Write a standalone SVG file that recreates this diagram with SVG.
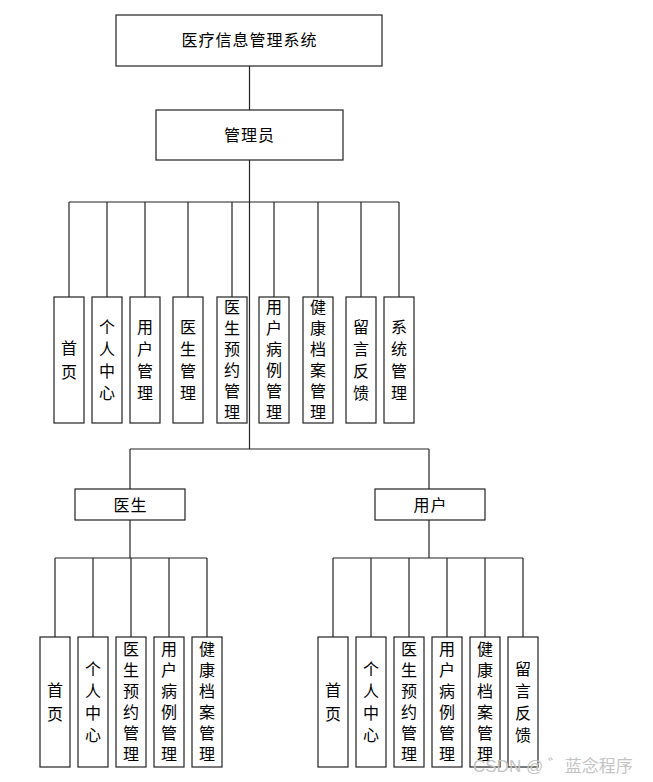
<svg xmlns="http://www.w3.org/2000/svg" width="653" height="782" viewBox="0 0 653 782">
<style>
rect{fill:#fff;stroke:#222;stroke-width:1.2}
.c line{stroke:#222;stroke-width:1.2}
text{font-family:"Noto Sans CJK SC","Noto Sans CJK JP",sans-serif;font-size:16px;fill:#000;text-anchor:middle}
.h{letter-spacing:1px}
.wm{font-family:"Liberation Sans","Noto Sans CJK SC",sans-serif;font-size:17px;fill:#c4c4c4;text-anchor:start}
</style>
<rect x="0" y="0" width="653" height="782" style="fill:#fff;stroke:none"/>
<g class="c" id="connectors">
<line x1="249.5" y1="66" x2="249.5" y2="110"/>
<line x1="249.5" y1="160" x2="249.5" y2="449"/>
<line x1="69" y1="202" x2="399" y2="202"/>
<line x1="69" y1="202" x2="69" y2="297"/>
<line x1="107" y1="202" x2="107" y2="297"/>
<line x1="145" y1="202" x2="145" y2="297"/>
<line x1="188" y1="202" x2="188" y2="297"/>
<line x1="232" y1="202" x2="232" y2="297"/>
<line x1="274" y1="202" x2="274" y2="297"/>
<line x1="318" y1="202" x2="318" y2="297"/>
<line x1="361" y1="202" x2="361" y2="297"/>
<line x1="399" y1="202" x2="399" y2="297"/>
<line x1="130" y1="449" x2="429" y2="449"/>
<line x1="130" y1="449" x2="130" y2="489"/>
<line x1="429" y1="449" x2="429" y2="489"/>
<line x1="130" y1="520" x2="130" y2="558"/>
<line x1="55" y1="558" x2="207" y2="558"/>
<line x1="55" y1="558" x2="55" y2="637"/>
<line x1="93" y1="558" x2="93" y2="637"/>
<line x1="131" y1="558" x2="131" y2="637"/>
<line x1="169" y1="558" x2="169" y2="637"/>
<line x1="207" y1="558" x2="207" y2="637"/>
<line x1="429" y1="520" x2="429" y2="558"/>
<line x1="333" y1="558" x2="523" y2="558"/>
<line x1="333" y1="558" x2="333" y2="637"/>
<line x1="371" y1="558" x2="371" y2="637"/>
<line x1="409" y1="558" x2="409" y2="637"/>
<line x1="447" y1="558" x2="447" y2="637"/>
<line x1="485" y1="558" x2="485" y2="637"/>
<line x1="523" y1="558" x2="523" y2="637"/>
</g>
<g id="root"><rect x="116" y="15" width="266" height="51"/><text class="h" x="249.5" y="46">医疗信息管理系统</text></g>
<g id="admin"><rect x="156" y="110" width="187" height="50"/><text class="h" x="249.5" y="141">管理员</text></g>

<g id="a1"><rect x="54" y="297" width="30" height="126"/><text><tspan x="69" y="354">首</tspan><tspan x="69" y="378">页</tspan></text></g>
<g id="a2"><rect x="92" y="297" width="30" height="126"/><text><tspan x="107" y="333">个</tspan><tspan x="107" y="355">人</tspan><tspan x="107" y="377">中</tspan><tspan x="107" y="399">心</tspan></text></g>
<g id="a3"><rect x="130" y="297" width="30" height="126"/><text><tspan x="145" y="333">用</tspan><tspan x="145" y="355">户</tspan><tspan x="145" y="377">管</tspan><tspan x="145" y="399">理</tspan></text></g>
<g id="a4"><rect x="173" y="297" width="30" height="126"/><text><tspan x="188" y="333">医</tspan><tspan x="188" y="355">生</tspan><tspan x="188" y="377">管</tspan><tspan x="188" y="399">理</tspan></text></g>
<g id="a5"><rect x="217" y="297" width="30" height="126"/><text><tspan x="232" y="313">医</tspan><tspan x="232" y="334">生</tspan><tspan x="232" y="355">预</tspan><tspan x="232" y="376">约</tspan><tspan x="232" y="397">管</tspan><tspan x="232" y="418">理</tspan></text></g>
<g id="a6"><rect x="259" y="297" width="30" height="126"/><text><tspan x="274" y="313">用</tspan><tspan x="274" y="334">户</tspan><tspan x="274" y="355">病</tspan><tspan x="274" y="376">例</tspan><tspan x="274" y="397">管</tspan><tspan x="274" y="418">理</tspan></text></g>
<g id="a7"><rect x="303" y="297" width="30" height="126"/><text><tspan x="318" y="313">健</tspan><tspan x="318" y="334">康</tspan><tspan x="318" y="355">档</tspan><tspan x="318" y="376">案</tspan><tspan x="318" y="397">管</tspan><tspan x="318" y="418">理</tspan></text></g>
<g id="a8"><rect x="346" y="297" width="30" height="126"/><text><tspan x="361" y="333">留</tspan><tspan x="361" y="355">言</tspan><tspan x="361" y="377">反</tspan><tspan x="361" y="399">馈</tspan></text></g>
<g id="a9"><rect x="384" y="297" width="30" height="126"/><text><tspan x="399" y="333">系</tspan><tspan x="399" y="355">统</tspan><tspan x="399" y="377">管</tspan><tspan x="399" y="399">理</tspan></text></g>

<g id="doctor"><rect x="75" y="489" width="110" height="31"/><text class="h" x="130.5" y="511">医生</text></g>
<g id="user"><rect x="375" y="489" width="110" height="31"/><text class="h" x="430.5" y="511">用户</text></g>

<g id="d1"><rect x="40" y="637" width="30" height="130"/><text><tspan x="55" y="696">首</tspan><tspan x="55" y="720">页</tspan></text></g>
<g id="d2"><rect x="78" y="637" width="30" height="130"/><text><tspan x="93" y="675">个</tspan><tspan x="93" y="697">人</tspan><tspan x="93" y="719">中</tspan><tspan x="93" y="741">心</tspan></text></g>
<g id="d3"><rect x="116" y="637" width="30" height="130"/><text><tspan x="131" y="655">医</tspan><tspan x="131" y="676">生</tspan><tspan x="131" y="697">预</tspan><tspan x="131" y="718">约</tspan><tspan x="131" y="739">管</tspan><tspan x="131" y="760">理</tspan></text></g>
<g id="d4"><rect x="154" y="637" width="30" height="130"/><text><tspan x="169" y="655">用</tspan><tspan x="169" y="676">户</tspan><tspan x="169" y="697">病</tspan><tspan x="169" y="718">例</tspan><tspan x="169" y="739">管</tspan><tspan x="169" y="760">理</tspan></text></g>
<g id="d5"><rect x="192" y="637" width="30" height="130"/><text><tspan x="207" y="655">健</tspan><tspan x="207" y="676">康</tspan><tspan x="207" y="697">档</tspan><tspan x="207" y="718">案</tspan><tspan x="207" y="739">管</tspan><tspan x="207" y="760">理</tspan></text></g>

<g id="u1"><rect x="318" y="637" width="30" height="130"/><text><tspan x="333" y="696">首</tspan><tspan x="333" y="720">页</tspan></text></g>
<g id="u2"><rect x="356" y="637" width="30" height="130"/><text><tspan x="371" y="675">个</tspan><tspan x="371" y="697">人</tspan><tspan x="371" y="719">中</tspan><tspan x="371" y="741">心</tspan></text></g>
<g id="u3"><rect x="394" y="637" width="30" height="130"/><text><tspan x="409" y="655">医</tspan><tspan x="409" y="676">生</tspan><tspan x="409" y="697">预</tspan><tspan x="409" y="718">约</tspan><tspan x="409" y="739">管</tspan><tspan x="409" y="760">理</tspan></text></g>
<g id="u4"><rect x="432" y="637" width="30" height="130"/><text><tspan x="447" y="655">用</tspan><tspan x="447" y="676">户</tspan><tspan x="447" y="697">病</tspan><tspan x="447" y="718">例</tspan><tspan x="447" y="739">管</tspan><tspan x="447" y="760">理</tspan></text></g>
<g id="u5"><rect x="470" y="637" width="30" height="130"/><text><tspan x="485" y="655">健</tspan><tspan x="485" y="676">康</tspan><tspan x="485" y="697">档</tspan><tspan x="485" y="718">案</tspan><tspan x="485" y="739">管</tspan><tspan x="485" y="760">理</tspan></text></g>
<g id="u6"><rect x="508" y="637" width="30" height="130"/><text><tspan x="523" y="675">留</tspan><tspan x="523" y="697">言</tspan><tspan x="523" y="719">反</tspan><tspan x="523" y="741">馈</tspan></text></g>

<text class="wm" x="473" y="772">CSDN @ ゛蓝念程序</text>
</svg>
